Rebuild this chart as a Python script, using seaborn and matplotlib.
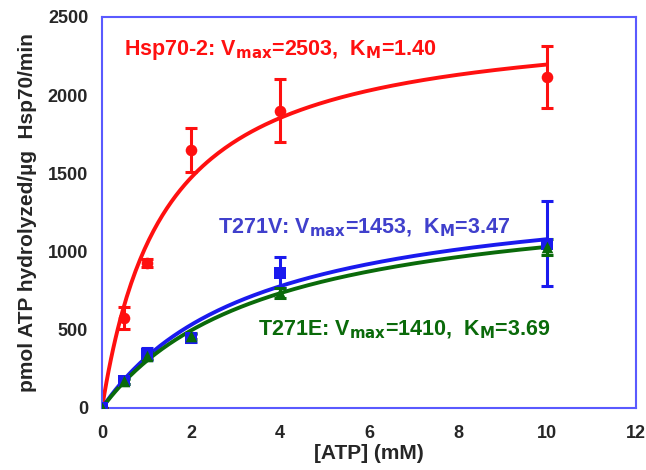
import numpy as np
import pandas as pd
import matplotlib
matplotlib.use("Agg")
import matplotlib.pyplot as plt
import seaborn as sns

atp = [0, 0.5, 1, 2, 4, 10]
hsp_vals = [0, 575, 927, 1650, 1900, 2116]
hsp_err = [0, 70, 25, 140, 200, 198]
v_vals = [0, 170, 345, 445, 865, 1050]
v_err = [0, 20, 40, 25, 100, 270]
e_vals = [0, 170, 335, 460, 735, 1030]
e_err = [0, 15, 20, 20, 30, 50]

names = ["Hsp70-2", "T271V", "T271E"]
vmax = [2503, 1453, 1410]
km = [1.40, 3.47, 3.69]
colors = ["#ff1010", "#1a1aee", "#0a6a0a"]
text_colors = ["#ff1010", "#4040cc", "#0a6a0a"]
markers = ["o", "s", "^"]

sns.set_theme(style="white")
plt.rcParams['font.family'] = ['Liberation Sans', 'DejaVu Sans']
plt.rcParams['mathtext.default'] = 'bf'

fig = plt.figure(figsize=(6.46, 4.70), dpi=100)
ax = fig.add_axes([0.158, 0.132, 0.8265, 0.832])

# fitted Michaelis-Menten curves
xs = np.linspace(0, 10, 200)
curve_rows = []
for n, V, K in zip(names, vmax, km):
    for x in xs:
        curve_rows.append({"ATP": x, "rate": V * x / (K + x), "protein": n})
curves = pd.DataFrame(curve_rows)
sns.lineplot(data=curves, x="ATP", y="rate", hue="protein", palette=dict(zip(names, colors)),
             linewidth=2.8, legend=False, ax=ax)

pts = pd.DataFrame({
    "ATP": atp * 3,
    "rate": hsp_vals + v_vals + e_vals,
    "err": hsp_err + v_err + e_err,
    "protein": [names[0]] * 6 + [names[1]] * 6 + [names[2]] * 6,
})
for n, c, m in zip(names, colors, markers):
    d = pts[pts.protein == n]
    ax.errorbar(d.ATP, d.rate, yerr=d.err, fmt="none", ecolor=c, elinewidth=2.2, capsize=4, capthick=2.2, zorder=3)
    sns.scatterplot(data=d, x="ATP", y="rate", marker=m, color=c, s=70, edgecolor=c, linewidth=0, ax=ax, zorder=4)

labels_pos = [(0.5, 2290), (2.6, 1150), (3.5, 500)]
for (x, y), n, V, K, tc in zip(labels_pos, names, vmax, km, text_colors):
    ax.text(x, y, f"{n}: V$_{{\\mathbf{{max}}}}$={V},  K$_{{\\mathbf{{M}}}}$={K:.2f}", color=tc,
            fontsize=15.5, fontweight="bold", va="center", ha="left")

ax.set_xlim(0, 12)
ax.set_ylim(0, 2500)
ax.set_xticks([0, 2, 4, 6, 8, 10, 12])
ax.set_yticks([0, 500, 1000, 1500, 2000, 2500])
ax.tick_params(axis="both", labelsize=13, length=0)
ax.tick_params(axis="y", pad=10)
ax.tick_params(axis="x", pad=12)
for lab in ax.get_xticklabels() + ax.get_yticklabels():
    lab.set_fontweight("bold")
ax.set_xlabel("[ATP] (mM)", fontsize=15, fontweight="bold", labelpad=2)
ax.set_ylabel("pmol ATP hydrolyzed/µg  Hsp70/min", fontsize=15, fontweight="bold", labelpad=8)
for s in ax.spines.values():
    s.set_color("#5a5aff")
    s.set_linewidth(1.5)
fig.savefig("out.png", dpi=100)
